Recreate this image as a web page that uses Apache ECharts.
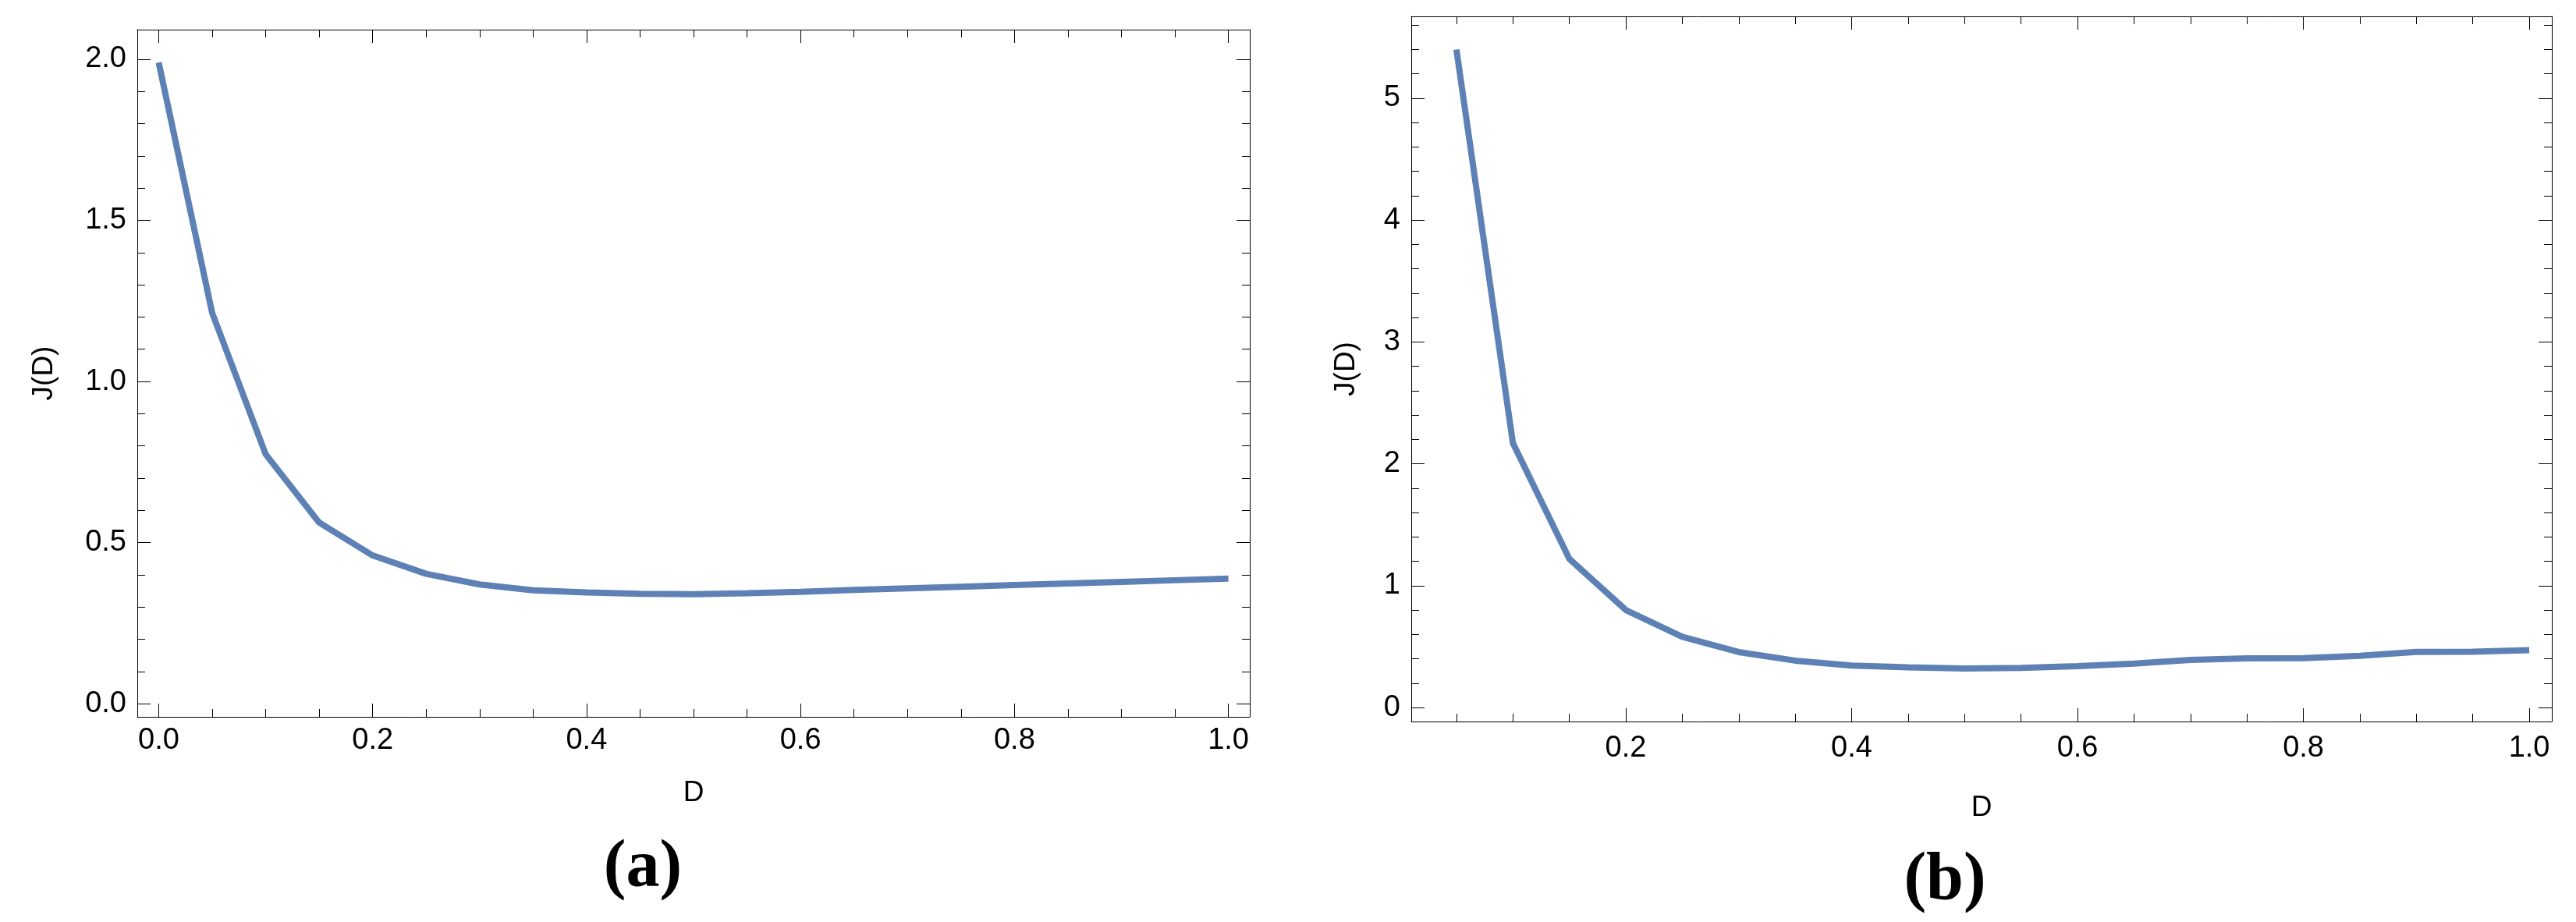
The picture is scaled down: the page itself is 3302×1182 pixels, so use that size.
<!DOCTYPE html>
<html>
<head>
<meta charset="utf-8">
<script src="https://cdn.jsdelivr.net/npm/echarts@6/dist/echarts.min.js"></script>
<style>
html,body{margin:0;padding:0;background:#fff;}
#chart{width:3302px;height:1182px;}
</style>
</head>
<body>
<div id="chart"></div>
<script>
// ---- data ----
const dA = [0, 0.05, 0.1, 0.15, 0.2, 0.25, 0.3, 0.35, 0.4, 0.45, 0.5, 0.55, 0.6, 0.65, 0.7, 0.75, 0.8, 0.85, 0.9, 0.95, 1.0];
const jA = [1.99, 1.213, 0.774, 0.562, 0.46, 0.403, 0.370, 0.352, 0.345, 0.341, 0.340, 0.343, 0.347, 0.353, 0.358, 0.363, 0.368, 0.373, 0.378, 0.383, 0.388];
const dB = [0.05, 0.1, 0.15, 0.2, 0.25, 0.3, 0.35, 0.4, 0.45, 0.5, 0.55, 0.6, 0.65, 0.7, 0.75, 0.8, 0.85, 0.9, 0.95, 1.0];
const jB = [5.40, 2.17, 1.22, 0.80, 0.58, 0.455, 0.385, 0.345, 0.33, 0.32, 0.325, 0.34, 0.36, 0.39, 0.403, 0.405, 0.425, 0.457, 0.458, 0.47];

// tick values
const xTicksA = [0, 0.2, 0.4, 0.6, 0.8, 1.0];
const yTicksA = [0, 0.5, 1.0, 1.5, 2.0];
const xTicksB = [0.2, 0.4, 0.6, 0.8, 1.0];
const yTicksB = [0, 1, 2, 3, 4, 5];

const xTitle = 'D';
const yTitle = 'J(D)';
const panelLabels = ['(a)', '(b)'];

// minor tick positions (steps between majors)
function minors(from, to, step, majorStep) {
  const out = [];
  const n = Math.round((to - from) / step);
  for (let i = 0; i <= n; i++) {
    const v = Math.round((from + i * step) * 1000) / 1000;
    const r = v / majorStep;
    if (Math.abs(r - Math.round(r)) > 1e-6) out.push(v);
  }
  return out;
}
const xMinorA = minors(0, 1, 0.05, 0.2);
const yMinorA = minors(0, 2, 0.1, 0.5);
const xMinorB = minors(0.05, 1, 0.05, 0.2);
const yMinorB = minors(0, 5.6, 0.2, 1);

const FONT = '"Liberation Sans", Arial, sans-serif';
const BLACK = '#000';

function makeAxes(dim, grid, min, max, major, minor, fmt, labelMargin, name, nameGap) {
  const sides = dim === 'x' ? ['bottom', 'top'] : ['left', 'right'];
  const axes = [];
  sides.forEach((pos, si) => {
    const main = {
      type: 'value', gridIndex: grid, min: min, max: max, position: pos,
      splitLine: { show: false },
      axisLine: { show: true, onZero: false, lineStyle: { color: BLACK, width: 1 } },
      axisTick: { show: true, inside: true, length: 17, customValues: major, lineStyle: { color: BLACK, width: 1 } },
      axisLabel: si === 0
        ? { show: true, customValues: major, formatter: fmt, margin: labelMargin, fontSize: 38, color: BLACK, fontFamily: FONT }
        : { show: false }
    };
    if (si === 0) {
      main.name = name;
      main.nameLocation = 'middle';
      main.nameGap = nameGap;
      main.nameTextStyle = { fontSize: 37, color: BLACK, fontFamily: FONT };
    }
    axes.push(main);
    axes.push({
      type: 'value', gridIndex: grid, min: min, max: max, position: pos,
      splitLine: { show: false },
      axisLine: { show: false, onZero: false },
      axisTick: { show: true, inside: true, length: 10, customValues: minor, lineStyle: { color: BLACK, width: 1 } },
      axisLabel: { show: false }
    });
  });
  return axes;
}

const f1 = v => Number(v).toFixed(1);
const f0 = v => String(Math.round(v));

const xAxes = [].concat(
  makeAxes('x', 0, -0.02, 1.02, xTicksA, xMinorA, f1, 12, xTitle, 79),
  makeAxes('x', 1, 0.01, 1.02, xTicksB, xMinorB, f1, 16, xTitle, 92)
);
const yAxes = [].concat(
  makeAxes('y', 0, -0.041, 2.092, yTicksA, yMinorA, f1, 14, yTitle, 101),
  makeAxes('y', 1, -0.115, 5.672, yTicksB, yMinorB, f0, 14, yTitle, 65)
);

const chart = echarts.init(document.getElementById('chart'), null, { renderer: 'canvas' });
chart.setOption({
  animation: false,
  backgroundColor: '#fff',
  grid: [
    { left: 176, top: 38, width: 1426, height: 881, show: false },
    { left: 1809, top: 21, width: 1462, height: 904, show: false }
  ],
  xAxis: xAxes,
  yAxis: yAxes,
  series: [
    {
      type: 'line', xAxisIndex: 0, yAxisIndex: 0,
      data: dA.map((d, i) => [d, jA[i]]),
      showSymbol: false, symbol: 'none',
      lineStyle: { color: '#5E81B5', width: 8 }
    },
    {
      type: 'line', xAxisIndex: 4, yAxisIndex: 4,
      data: dB.map((d, i) => [d, jB[i]]),
      showSymbol: false, symbol: 'none',
      lineStyle: { color: '#5E81B5', width: 8 }
    }
  ],
  graphic: [
    { type: 'text', x: 824, y: 1114, style: { text: panelLabels[0], font: 'bold 86px "Liberation Serif", "Times New Roman", serif', fill: BLACK, align: 'center', verticalAlign: 'middle' } },
    { type: 'text', x: 2493, y: 1130, style: { text: panelLabels[1], font: 'bold 86px "Liberation Serif", "Times New Roman", serif', fill: BLACK, align: 'center', verticalAlign: 'middle' } }
  ]
});
</script>
</body>
</html>
